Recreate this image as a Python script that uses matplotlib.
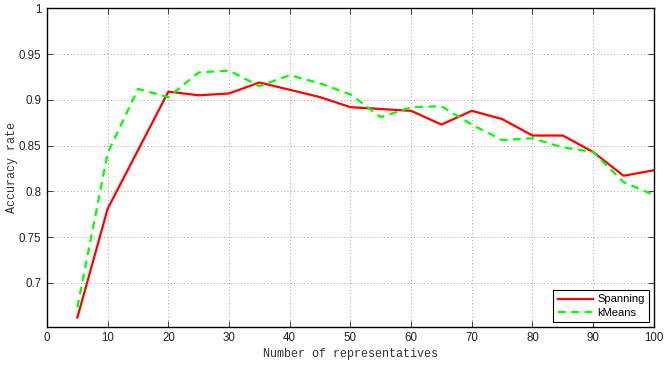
import matplotlib
matplotlib.use("Agg")
import matplotlib.pyplot as plt

# Number of representatives
n_reps = [5, 10, 15, 20, 25, 30, 35, 40, 45, 50, 55, 60, 65, 70, 75, 80, 85, 90, 95, 100]

# Accuracy rate per method
spanning = [0.662, 0.781, None, 0.909, 0.905, 0.907, 0.919, 0.911, 0.903, 0.892,
            0.890, 0.888, 0.873, 0.888, 0.879, 0.861, 0.861, 0.843, 0.817, 0.823]
kmeans = [0.673, 0.842, 0.912, 0.903, 0.930, 0.932, 0.915, 0.927, 0.918, 0.906,
          0.881, 0.892, 0.893, 0.873, 0.856, 0.858, 0.848, 0.843, 0.810, 0.796]

x_ticks = [0, 10, 20, 30, 40, 50, 60, 70, 80, 90, 100]
y_ticks = [0.7, 0.75, 0.8, 0.85, 0.9, 0.95, 1.0]
y_tick_labels = ["0.7", "0.75", "0.8", "0.85", "0.9", "0.95", "1"]

# Spanning has no sample at 15; its line runs straight from 10 to 20
span_x = [x for x, v in zip(n_reps, spanning) if v is not None]
span_y = [v for v in spanning if v is not None]

fig = plt.figure(figsize=(6.65, 3.65), dpi=100)
ax = fig.add_axes([0.0707, 0.105, 0.9125, 0.872])

ax.plot(span_x, span_y, color=(1, 0, 0), lw=1.6, label="Spanning")
ax.plot(n_reps, kmeans, color=(0, 1, 0), lw=1.6, ls=(0, (3.5, 2.5)), label="kMeans")

ax.set_xlim(0, 100)
ax.set_ylim(0.652, 1.0)
ax.set_xticks(x_ticks)
ax.set_yticks(y_ticks)
ax.set_yticklabels(y_tick_labels)

for lab in ax.get_xticklabels() + ax.get_yticklabels():
    lab.set_fontfamily("Liberation Sans")
    lab.set_fontsize(8.3)
    lab.set_color("#222222")

ax.tick_params(direction="in", length=4, width=0.6, top=True, right=True,
               pad=4, colors="#222222")
ax.grid(True, color="#888888", ls=(0, (1, 3)), lw=0.6)
for sp in ax.spines.values():
    sp.set_linewidth(1.0)
    sp.set_color("black")

ax.set_xlabel("Number of representatives", family="Liberation Mono", fontsize=8.5,
              labelpad=3, color="#333333")
ax.set_ylabel("Accuracy rate", family="Liberation Mono", fontsize=8.5,
              labelpad=1, color="#333333")

leg = ax.legend(loc="lower right", prop={"family": "Liberation Sans", "size": 8},
                fancybox=False, framealpha=1, edgecolor="black",
                borderpad=0.4, handlelength=3.2, labelspacing=0.3,
                handletextpad=0.4, borderaxespad=0.4)
leg.get_frame().set_linewidth(0.8)

fig.savefig("out.png", dpi=100)
